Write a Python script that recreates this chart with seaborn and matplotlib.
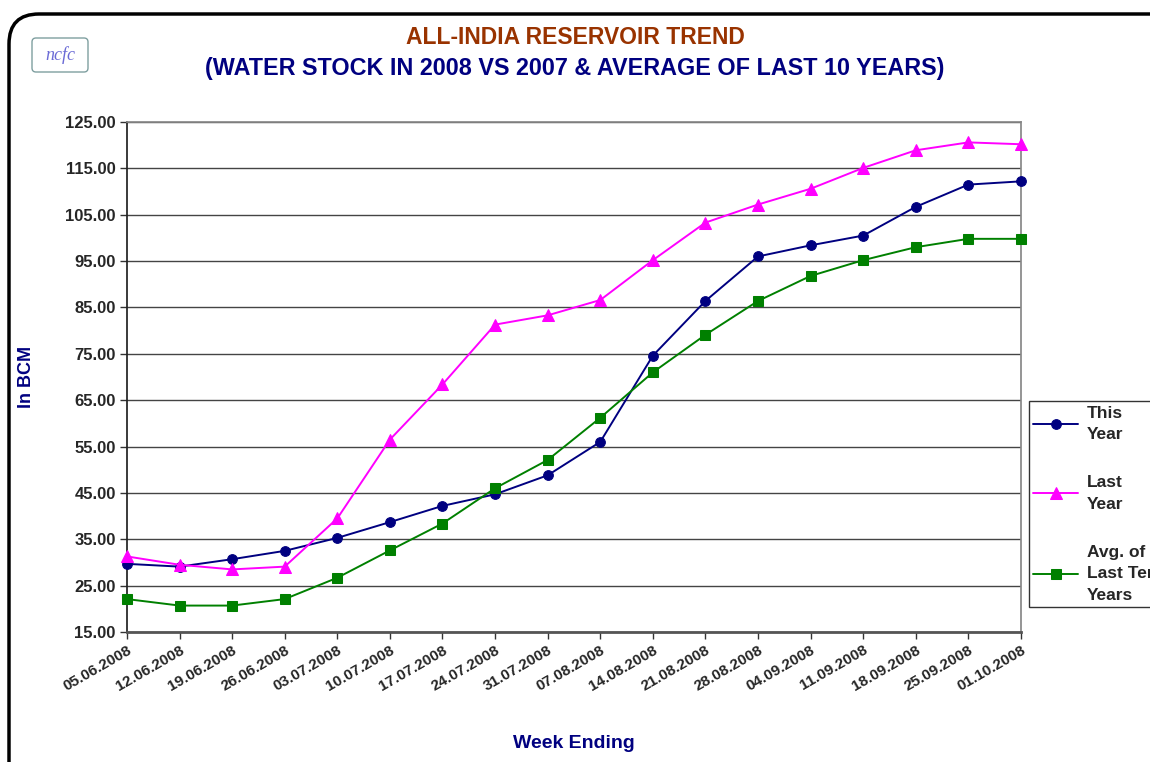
import pandas as pd
import numpy as np
from matplotlib import pyplot as plt
from matplotlib.patches import FancyBboxPatch
import seaborn as sns

# week ending dates and stocks (BCM)
weeks = ['05.06.2008', '12.06.2008', '19.06.2008', '26.06.2008', '03.07.2008', '10.07.2008',
         '17.07.2008', '24.07.2008', '31.07.2008', '07.08.2008', '14.08.2008', '21.08.2008',
         '28.08.2008', '04.09.2008', '11.09.2008', '18.09.2008', '25.09.2008', '01.10.2008']
this_year = [29.7, 29.1, 30.7, 32.5, 35.3, 38.7, 42.2, 44.7, 48.8, 56.0, 74.6, 86.4,
             96.0, 98.4, 100.5, 106.7, 111.5, 112.2]
last_year = [31.3, 29.5, 28.5, 29.1, 39.5, 56.5, 68.4, 81.3, 83.3, 86.6, 95.2, 103.3,
             107.2, 110.6, 115.1, 118.9, 120.6, 120.2]
avg_10yr = [22.1, 20.7, 20.7, 22.1, 26.7, 32.6, 38.4, 46.0, 52.1, 61.2, 71.0, 79.1,
            86.4, 91.8, 95.2, 98.0, 99.8, 99.8]
yticks = np.arange(15, 126, 10)

df = pd.DataFrame({'week': weeks, 'this': this_year, 'last': last_year, 'avg': avg_10yr})

sns.set_theme(style='white')
plt.rcParams['font.family'] = ['Liberation Sans', 'DejaVu Sans']

fig = plt.figure(figsize=(11.5, 7.62), dpi=100)
ax = fig.add_axes([0.1104, 0.1706, 0.7774, 0.6693])

sns.lineplot(x='week', y='this', data=df, sort=False, color='#000080', marker='o',
             markersize=7, markeredgecolor='#000080', linewidth=1.4, label='This\nYear', ax=ax)
sns.lineplot(x='week', y='last', data=df, sort=False, color='#FF00FF', marker='^',
             markersize=8, markeredgecolor='#FF00FF', linewidth=1.4, label='Last\nYear', ax=ax)
sns.lineplot(x='week', y='avg', data=df, sort=False, color='#008000', marker='s',
             markersize=6.5, markeredgecolor='#008000', linewidth=1.4, label='Avg. of\nLast Ten\nYears', ax=ax)
for ln in ax.lines:
    ln.set_clip_on(False)
    ln.set_zorder(5)

ax.set_ylim(15, 125)
ax.set_xlim(0, len(weeks) - 1)
ax.set_yticks(yticks)
ax.set_yticklabels(['%.2f' % v for v in yticks], fontsize=12, fontweight='bold')
ax.set_xticks(range(len(weeks)))
ax.set_xticklabels(weeks, rotation=30, ha='right', rotation_mode='anchor',
                   fontsize=11, fontweight='bold')
ax.tick_params(axis='both', direction='out', length=5, width=1, color='#333333', pad=3,
               bottom=True, left=True)
for v in yticks:
    ax.axhline(v, color='#444444', lw=1, zorder=0)
ax.spines['left'].set_color('#222222')
ax.spines['bottom'].set_color('#555555')
ax.spines['bottom'].set_linewidth(2)
ax.spines['right'].set_color('#888888')
ax.spines['top'].set_color('#888888')

ax.set_xlabel('Week Ending', fontsize=14, fontweight='bold', color='#000080', labelpad=30)
ax.set_ylabel('In BCM', fontsize=13, fontweight='bold', color='#000080', labelpad=22)

leg = ax.legend(loc='lower left', bbox_to_anchor=(1020 / 1150, 1 - 616 / 762),
                bbox_transform=fig.transFigure, frameon=True, fancybox=False,
                prop={'weight': 'bold', 'size': 12.5}, handlelength=2.6,
                labelspacing=1.9, borderpad=0.25, handletextpad=0.5)
leg.get_frame().set_edgecolor('black')
leg.get_frame().set_linewidth(1)
for t in leg.get_texts():
    t.set_linespacing(1.55)

fig.text(0.5, 1 - 37 / 762, 'ALL-INDIA RESERVOIR TREND', ha='center', va='center',
         fontsize=16.5, fontweight='bold', color='#993300')
fig.text(0.5, 1 - 69 / 762, '(WATER STOCK IN 2008 VS 2007 & AVERAGE OF LAST 10 YEARS)',
         ha='center', va='center', fontsize=16.8, fontweight='bold', color='#000080')

# ncfc logo box
logo = FancyBboxPatch((0.34, 6.92), 0.52, 0.3, boxstyle='round,pad=0.02,rounding_size=0.04',
                      transform=fig.dpi_scale_trans, fc='white', ec='#7f9fa0', lw=1)
fig.patches.append(logo)
fig.text(0.6 / 11.5, 7.07 / 7.62, 'ncfc', ha='center', va='center', fontsize=13,
         family='Liberation Serif', style='italic', color='#6b6bd6')

# rounded outer border
border = FancyBboxPatch((0.09, -0.6), 12.0, 8.08, boxstyle='round,pad=0,rounding_size=0.3',
                        transform=fig.dpi_scale_trans, fc='none', ec='black', lw=2.5)
fig.patches.append(border)

fig.savefig('out.png', dpi=100)
